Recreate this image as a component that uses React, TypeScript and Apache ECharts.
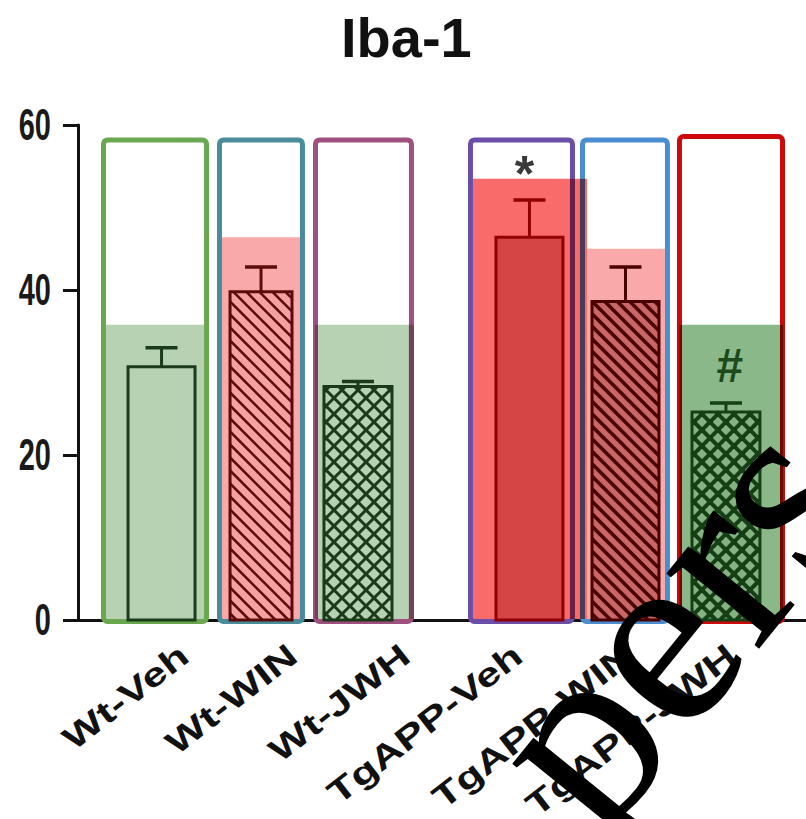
import React, { useEffect, useRef } from "react";
import * as echarts from "echarts";

// ---------- data ----------
const titleText = "Iba-1";
const categories = ["Wt-Veh", "Wt-WIN", "Wt-JWH", "TgAPP-Veh", "TgAPP-WIN", "TgAPP-JWH"];
const positions = [0, 1, 2, 3.5, 4.5, 5.5];
const means = [30.7, 39.8, 28.3, 46.4, 38.6, 25.2];
const sems = [2.3, 3.0, 0.6, 4.5, 4.2, 1.1];
const shadeLevels = [35.8, 46.4, 35.8, 53.5, 45.0, 35.8];
const frameTops = [58.5, 58.5, 58.5, 58.5, 58.5, 58.9];
const marks = ["", "", "", "*", "", "#"];
const yTicks = [0, 20, 40, 60];
const watermarkText = "pers";

// ---------- layout / styles ----------
const X_MIN = -0.737;
const X_MAX = 6.23;
const FONT = '"Liberation Sans", Arial, Helvetica, sans-serif';
const BORDER = 5;

type Look = {
  frame: string;
  shade: string;
  fill: string;
  stroke: string;
  pattern: "none" | "hatch" | "cross";
  patternColor: string;
  patternWidth: number;
  step: number;
  frameX: [number, number];
  shadeX: [number, number];
  barX: [number, number];
  labelX: number;
  markColor: string;
  markSize: number;
  markGap: number;
  markDx: number;
  markWeight: string;
};

const looks: Look[] = [
  { frame: "#6aa84f", shade: "#b7d1b3", fill: "#b7d1b3", stroke: "#1c3b1c", pattern: "none", patternColor: "", patternWidth: 0, step: 0, frameX: [-0.517, 0.517], shadeX: [-0.469, 0.469], barX: [-0.258, 0.383], labelX: 0.18, markColor: "", markSize: 0, markGap: 0, markDx: 0, markWeight: "normal" },
  { frame: "#4a8c9c", shade: "#f9a9a9", fill: "#f6a1a1", stroke: "#5c0b0b", pattern: "hatch", patternColor: "#5c0b0b", patternWidth: 2.5, step: 13, frameX: [-0.407, 0.435], shadeX: [-0.359, 0.388], barX: [-0.282, 0.311], labelX: 0.22, markColor: "", markSize: 0, markGap: 0, markDx: 0, markWeight: "normal" },
  { frame: "#a0507e", shade: "#b7d1b3", fill: "#b7d1b3", stroke: "#1a3a1a", pattern: "cross", patternColor: "#1a3a1a", patternWidth: 3, step: 16, frameX: [-0.488, 0.478], shadeX: [-0.47, 0.478], barX: [-0.383, 0.268], labelX: 0.30, markColor: "", markSize: 0, markGap: 0, markDx: 0, markWeight: "normal" },
  { frame: "#6a4ea8", shade: "#f96b6b", fill: "#d64545", stroke: "#900000", pattern: "none", patternColor: "", patternWidth: 0, step: 0, frameX: [-0.505, 0.519], shadeX: [-0.457, 0.634], barX: [-0.237, 0.404], labelX: -0.125, markColor: "#3a3a3a", markSize: 50, markGap: 26, markDx: -5, markWeight: "bold" },
  { frame: "#4a8ed0", shade: "#f9a9a9", fill: "#c96767", stroke: "#4a0000", pattern: "hatch", patternColor: "#4a0000", patternWidth: 3.5, step: 12.5, frameX: [-0.433, 0.428], shadeX: [-0.366, 0.38], barX: [-0.318, 0.323], labelX: -0.065, markColor: "", markSize: 0, markGap: 0, markDx: 0, markWeight: "normal" },
  { frame: "#cc0a0a", shade: "#8bb889", fill: "#84b382", stroke: "#163f16", pattern: "cross", patternColor: "#163f16", patternWidth: 4, step: 16, frameX: [-0.505, 0.529], shadeX: [-0.48, 0.51], barX: [-0.361, 0.289], labelX: -0.08, markColor: "#1d4a1d", markSize: 48, markGap: 38, markDx: 4, markWeight: "bold" },
];

function hexToRgb(h: string) {
  const n = parseInt(h.slice(1), 16);
  return [(n >> 16) & 255, (n >> 8) & 255, n & 255];
}
function multiply(a: string, b: string) {
  const ca = hexToRgb(a);
  const cb = hexToRgb(b);
  const m = ca.map((v, k) => Math.round((v * cb[k]) / 255));
  return `rgb(${m[0]},${m[1]},${m[2]})`;
}

function hatch(
  x0: number, y0: number, x1: number, y1: number,
  step: number, dir: "back" | "fwd", color: string, width: number
) {
  const out: any[] = [];
  if (dir === "back") {
    const cStart = y0 - x1;
    const cEnd = y1 - x0;
    for (let c = cEnd - step / 2; c > cStart; c -= step) {
      const xa = Math.max(x0, y0 - c);
      const xb = Math.min(x1, y1 - c);
      if (xb > xa) {
        out.push({ type: "line", z2: 4, shape: { x1: xa, y1: xa + c, x2: xb, y2: xb + c }, style: { stroke: color, lineWidth: width } });
      }
    }
  } else {
    const cStart = x0 + y0;
    const cEnd = x1 + y1;
    for (let c = cEnd - step / 2; c > cStart; c -= step) {
      const xa = Math.max(x0, c - y1);
      const xb = Math.min(x1, c - y0);
      if (xb > xa) {
        out.push({ type: "line", z2: 4, shape: { x1: xa, y1: c - xa, x2: xb, y2: c - xb }, style: { stroke: color, lineWidth: width } });
      }
    }
  }
  return out;
}

function renderColumn(params: any, api: any) {
  const i = params.dataIndex;
  const L = looks[i];
  const p = api.value(0);
  const mean = api.value(1);
  const sem = api.value(2);
  const shade = api.value(3);
  const top = api.value(4);
  const base = api.coord([p, 0]);
  const unit = api.size([1, 0])[0];
  const cx = base[0];
  const y0 = base[1];
  const yMean = api.coord([p, mean])[1];
  const yErr = api.coord([p, mean + sem])[1];
  const yShade = api.coord([p, shade])[1];
  const yTop = api.coord([p, top])[1];

  const fx0 = cx + L.frameX[0] * unit;
  const fx1 = cx + L.frameX[1] * unit;
  const sx0 = cx + L.shadeX[0] * unit;
  const sx1 = cx + L.shadeX[1] * unit;
  const bx0 = cx + L.barX[0] * unit;
  const bx1 = cx + L.barX[1] * unit;
  const bcx = (bx0 + bx1) / 2;
  const shadeBottom = y0 - 1;

  const children: any[] = [];
  // shaded level (below frames)
  children.push({
    type: "rect", z2: 1,
    shape: { x: sx0, y: yShade, width: sx1 - sx0, height: shadeBottom - yShade },
    style: { fill: L.shade },
  });
  // outer frame
  children.push({
    type: "rect", z2: 2,
    shape: { x: fx0 + BORDER / 2, y: yTop + BORDER / 2, width: fx1 - fx0 - BORDER, height: y0 + 1.5 - (yTop + BORDER / 2), r: 4 },
    style: { fill: "none", stroke: L.frame, lineWidth: BORDER },
  });
  // where this shade lies over any frame border, show the darkened (multiplied) tone
  for (let j = 0; j < positions.length; j++) {
    const cj = api.coord([positions[j], 0])[0];
    const a0 = cj + looks[j].frameX[0] * unit;
    const a1 = cj + looks[j].frameX[1] * unit;
    const strips: [number, number][] = [[a0, a0 + BORDER], [a1 - BORDER, a1]];
    for (const [s0, s1] of strips) {
      const l = Math.max(s0, sx0);
      const r = Math.min(s1, sx1);
      if (r - l > 0.5) {
        children.push({
          type: "rect", z2: 2.5,
          shape: { x: l, y: yShade, width: r - l, height: shadeBottom - yShade },
          style: { fill: multiply(looks[j].frame, L.shade) },
        });
      }
    }
  }
  // bar fill
  children.push({
    type: "rect", z2: 3,
    shape: { x: bx0, y: yMean, width: bx1 - bx0, height: y0 - yMean },
    style: { fill: L.fill },
  });
  if (L.pattern === "hatch") {
    children.push(...hatch(bx0, yMean, bx1, y0, L.step, "back", L.patternColor, L.patternWidth));
  } else if (L.pattern === "cross") {
    children.push(...hatch(bx0, yMean, bx1, y0, L.step, "back", L.patternColor, L.patternWidth));
    children.push(...hatch(bx0, yMean, bx1, y0, L.step, "fwd", L.patternColor, L.patternWidth));
  }
  // bar border
  children.push({
    type: "rect", z2: 5,
    shape: { x: bx0, y: yMean, width: bx1 - bx0, height: y0 - yMean },
    style: { fill: "none", stroke: L.stroke, lineWidth: 3 },
  });
  // error bar
  children.push({
    type: "line", z2: 5,
    shape: { x1: bcx, y1: yMean, x2: bcx, y2: yErr },
    style: { stroke: L.stroke, lineWidth: 3 },
  });
  children.push({
    type: "line", z2: 5,
    shape: { x1: bcx - 16, y1: yErr, x2: bcx + 16, y2: yErr },
    style: { stroke: L.stroke, lineWidth: 3.5 },
  });
  // significance mark
  if (marks[i]) {
    children.push({
      type: "text", z2: 6,
      x: bcx + L.markDx, y: yErr - L.markGap,
      style: {
        text: marks[i], fill: L.markColor, fontSize: L.markSize, fontWeight: L.markWeight,
        fontFamily: FONT, align: "center", verticalAlign: "middle",
      },
    });
  }
  // category label
  children.push({
    type: "text", z2: 6,
    x: cx + L.labelX * unit, y: y0 + 18,
    rotation: (38 * Math.PI) / 180,
    scaleX: 1.33,
    style: {
      text: categories[i], fill: "#111111", fontSize: 33, fontWeight: "bold",
      fontFamily: FONT, align: "right", verticalAlign: "top",
    },
  });
  return { type: "group", children };
}

function renderYLabel(params: any, api: any) {
  const pt = api.coord([api.value(0), api.value(1)]);
  return {
    type: "text",
    x: pt[0] - 27, y: pt[1],
    scaleY: 1.5,
    style: {
      text: String(yTicks[params.dataIndex]), fill: "#1a1a1a", fontSize: 29, fontWeight: "bold",
      fontFamily: FONT, align: "right", verticalAlign: "middle",
    },
  };
}

export default function App() {
  const ref = useRef<HTMLDivElement>(null);
  useEffect(() => {
    document.body.style.margin = "0";
    if (!ref.current) return;
    const chart = echarts.init(ref.current, undefined, { renderer: "svg" });
    chart.setOption({
      animation: false,
      backgroundColor: "#ffffff",
      title: {
        text: titleText,
        left: 336,
        top: 4,
        textStyle: { fontSize: 56, fontWeight: "bold", fontFamily: FONT, color: "#111111" },
      },
      grid: { left: 78, top: 125, width: 728, height: 495, containLabel: false },
      xAxis: {
        type: "value", min: X_MIN, max: X_MAX,
        axisLine: { show: true, onZero: false, lineStyle: { color: "#111111", width: 3 } },
        axisTick: { show: false }, axisLabel: { show: false }, splitLine: { show: false },
      },
      yAxis: {
        type: "value", min: 0, max: 60, interval: 20,
        axisLine: { show: true, onZero: false, lineStyle: { color: "#111111", width: 3 } },
        axisTick: { show: true, length: 15, lineStyle: { color: "#111111", width: 3 } },
        axisLabel: { show: false }, splitLine: { show: false },
      },
      series: [
        {
          type: "custom",
          renderItem: renderColumn,
          clip: false,
          silent: true,
          data: positions.map((p, i) => [p, means[i], sems[i], shadeLevels[i], frameTops[i]]),
        },
        {
          type: "custom",
          renderItem: renderYLabel,
          clip: false,
          silent: true,
          data: yTicks.map((v) => [X_MIN, v]),
        },
      ],
      graphic: [
        {
          type: "text",
          x: 533, y: 788,
          rotation: (51 * Math.PI) / 180,
          z: 100,
          silent: true,
          style: {
            text: watermarkText, fill: "#000000", fontSize: 260,
            fontFamily: '"Liberation Serif", "Times New Roman", serif',
            align: "left", verticalAlign: "middle",
          },
        },
      ],
    });
    return () => chart.dispose();
  }, []);
  return <div ref={ref} style={{ width: 806, height: 819 }} />;
}
